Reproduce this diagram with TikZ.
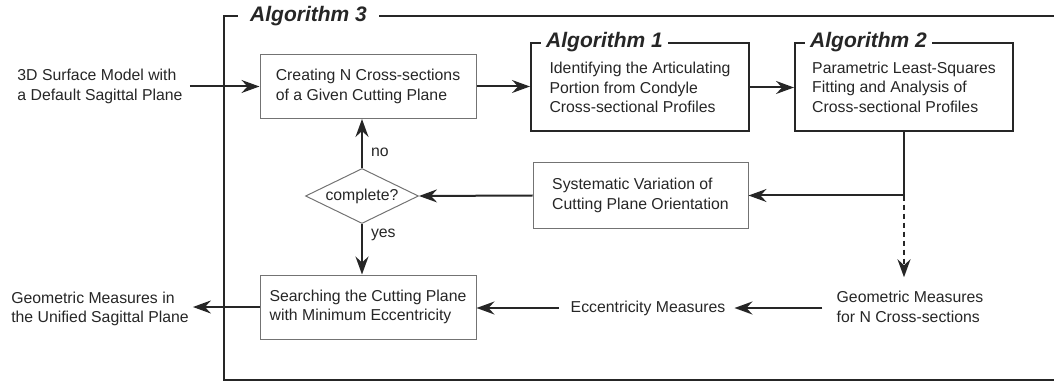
\documentclass[tikz,border=0pt]{standalone}
\usepackage{fontspec}
\setmainfont{Liberation Sans}
\usetikzlibrary{arrows.meta,shapes.geometric}

\tikzset{
  flow/.style={line width=2pt, draw=black!85, -{Stealth[length=18pt,width=13pt,inset=6pt]}},
  plainbox/.style={draw=black!55, line width=1pt, minimum width=216pt, minimum height=64pt, align=left, inner sep=0pt},
  algbox/.style={draw=black!85, line width=2pt, minimum width=218pt, minimum height=88pt, align=left, inner sep=0pt},
  algtitle/.style={fill=white, inner xsep=5pt, inner ysep=1pt, anchor=west, font=\fontsize{21}{21}\selectfont\bfseries\itshape},
  decision/.style={diamond, draw=black!55, line width=1pt, aspect=2, inner sep=0pt, minimum width=113pt, minimum height=55pt},
  txt/.style={align=left, inner sep=0pt},
}

\begin{document}
\begin{tikzpicture}[x=1pt, y=-1pt, font=\fontsize{15.8}{19.5}\selectfont, text=black!85]
        \useasboundingbox (0,0) rectangle (1054,382);

        % Outer frame
        \draw[line width=2pt, draw=black!85] (1054,16) -| (224,380) -- (1054,380);
        \node[algtitle, inner xsep=12pt] (alg3title) at (238,16) {Algorithm 3};

        % Input and output
        \node[txt] (model) at (100,86.5) {3D Surface Model with\\a Default Sagittal Plane};
        \node[txt] (unified) at (100,309) {Geometric Measures in\\the Unified Sagittal Plane};

        % Boxes
        \node[plainbox] (create) at (368,86.5) {Creating N Cross-sections\\of a Given Cutting Plane};
        \node[algbox] (alg1) at (640,87.5) {Identifying the Articulating\\Portion from Condyle\\Cross-sectional Profiles};
        \node[algbox] (alg2) at (904,87) {Parametric Least-Squares\\Fitting and Analysis of\\Cross-sectional Profiles};
        \node[plainbox, minimum width=215pt, minimum height=65pt] (vary) at (640.5,195.5) {Systematic Variation of\\Cutting Plane Orientation};
        \node[decision] (done) at (362,196) {complete?};
        \node[plainbox] (search) at (368,307) {Searching the Cutting Plane\\with Minimum Eccentricity};

        \node[algtitle] (alg1title) at ([xshift=11pt]alg1.north west) {Algorithm 1};
        \node[algtitle] (alg2title) at ([xshift=11pt]alg2.north west) {Algorithm 2};

        % Results
        \node[txt] (geom) at (910,307) {Geometric Measures\\for N Cross-sections};
        \node[txt] (ecc) at (648,308) {Eccentricity Measures};

        % Flow
        \draw[flow, shorten <=7pt] (model.east) -- (create.west);
        \draw[flow] (create.east) -- (create.east -| alg1.west);
        \draw[flow] (alg1.east) -- (alg1.east -| alg2.west);
        \coordinate (split) at (alg2.south |- vary.east);
        \draw[flow] (alg2.south) -- (split) -- (vary.east);
        \draw[flow] (vary.west) -- (done.east);
        \draw[flow] (done.north) -- node[pos=0.33, right=8pt, inner sep=0pt] {no} (done.north |- create.south);
        \draw[flow] (done.south) -- node[pos=0.22, right=8pt, inner sep=0pt] {yes} (done.south |- search.north);
        \draw[flow, dash pattern=on 5pt off 4pt] (split) -- ([yshift=14pt]geom.north -| split);
        \draw[flow, shorten <=14pt, shorten >=9pt] (geom.west |- ecc.east) -- (ecc.east);
        \draw[flow, shorten <=12pt] (ecc.west) -- (search.east |- ecc.west);
        \draw[flow, shorten >=4pt] (search.west) -- (search.west -| unified.east);
    \end{tikzpicture}
\end{document}
